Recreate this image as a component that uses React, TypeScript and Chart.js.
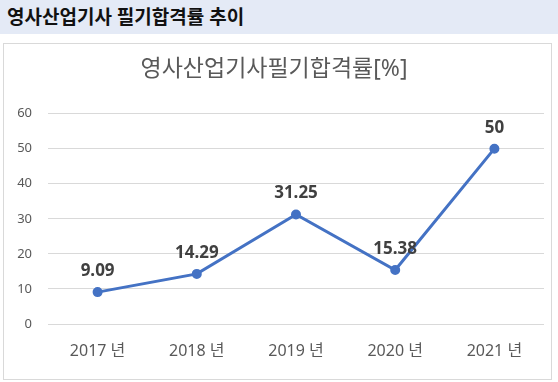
import React, { useEffect, useRef } from "react";
import { Chart, registerables } from "chart.js";

Chart.register(...registerables);

const pageTitle = "영사산업기사 필기합격률 추이";
const chartTitle = "영사산업기사필기합격률[%]";
const categories = ["2017 년", "2018 년", "2019 년", "2020 년", "2021 년"];
const passRates = [9.09, 14.29, 31.25, 15.38, 50];
const rateLabels = ["9.09", "14.29", "31.25", "15.38", "50"];

const FONT = "'Noto Sans', 'Noto Sans CJK KR', sans-serif";

const dataLabelPlugin = {
  id: "dataLabels",
  afterDatasetsDraw(chart: any) {
    const ctx = chart.ctx;
    const meta = chart.getDatasetMeta(0);
    ctx.save();
    ctx.font = `bold 17px ${FONT}`;
    ctx.fillStyle = "#404040";
    ctx.textAlign = "center";
    ctx.textBaseline = "middle";
    meta.data.forEach((pt: any, i: number) => {
      ctx.fillText(rateLabels[i], pt.x, pt.y - 21);
    });
    ctx.restore();
  },
};

export default function App() {
  const ref = useRef<HTMLCanvasElement | null>(null);
  useEffect(() => {
    if (!ref.current) return;
    const chart = new Chart(ref.current, {
      type: "line",
      data: {
        labels: categories,
        datasets: [
          {
            data: passRates,
            borderColor: "#4472c4",
            backgroundColor: "#4472c4",
            borderWidth: 3,
            pointRadius: 3.5,
            pointHoverRadius: 3.5,
            tension: 0,
          },
        ],
      },
      options: {
        responsive: false,
        animation: false,
        layout: { padding: { left: 0, right: 7, top: 0, bottom: 0 } },
        plugins: {
          legend: { display: false },
          tooltip: { enabled: false },
          title: {
            display: true,
            text: chartTitle,
            color: "#595959",
            font: { family: FONT, size: 23, weight: "normal" },
            padding: { top: 12, bottom: 30 },
          },
        },
        scales: {
          x: {
            offset: true,
            grid: { display: false, drawTicks: false },
            border: { display: false },
            ticks: {
              color: "#595959",
              font: { family: FONT, size: 16 },
              padding: 18,
            },
            afterFit(scale: any) {
              scale.height = 55;
            },
          },
          y: {
            min: 0,
            max: 60,
            ticks: {
              stepSize: 10,
              color: "#595959",
              font: { family: FONT, size: 13 },
              padding: 16,
            },
            grid: { color: "#d9d9d9", drawTicks: false },
            border: { display: false },
            afterFit(scale: any) {
              scale.width = 44;
            },
          },
        },
      },
      plugins: [dataLabelPlugin],
    });
    return () => chart.destroy();
  }, []);

  return (
    <div style={{ position: "absolute", left: 0, top: 0, width: 558, height: 382, background: "#fff", fontFamily: FONT }}>
      <div
        style={{
          position: "absolute",
          left: 0,
          top: 0,
          width: 558,
          height: 34,
          background: "#e4eaf6",
          boxSizing: "border-box",
          paddingLeft: 7,
          lineHeight: "34px",
          fontSize: 19,
          fontWeight: "bold",
          color: "#111",
        }}
      >
        {pageTitle}
      </div>
      <div
        style={{
          position: "absolute",
          left: 3,
          top: 43,
          width: 549,
          height: 337,
          border: "1px solid #d9d9d9",
          boxSizing: "border-box",
        }}
      >
        <canvas ref={ref} width={547} height={335} style={{ display: "block" }} />
      </div>
    </div>
  );
}
